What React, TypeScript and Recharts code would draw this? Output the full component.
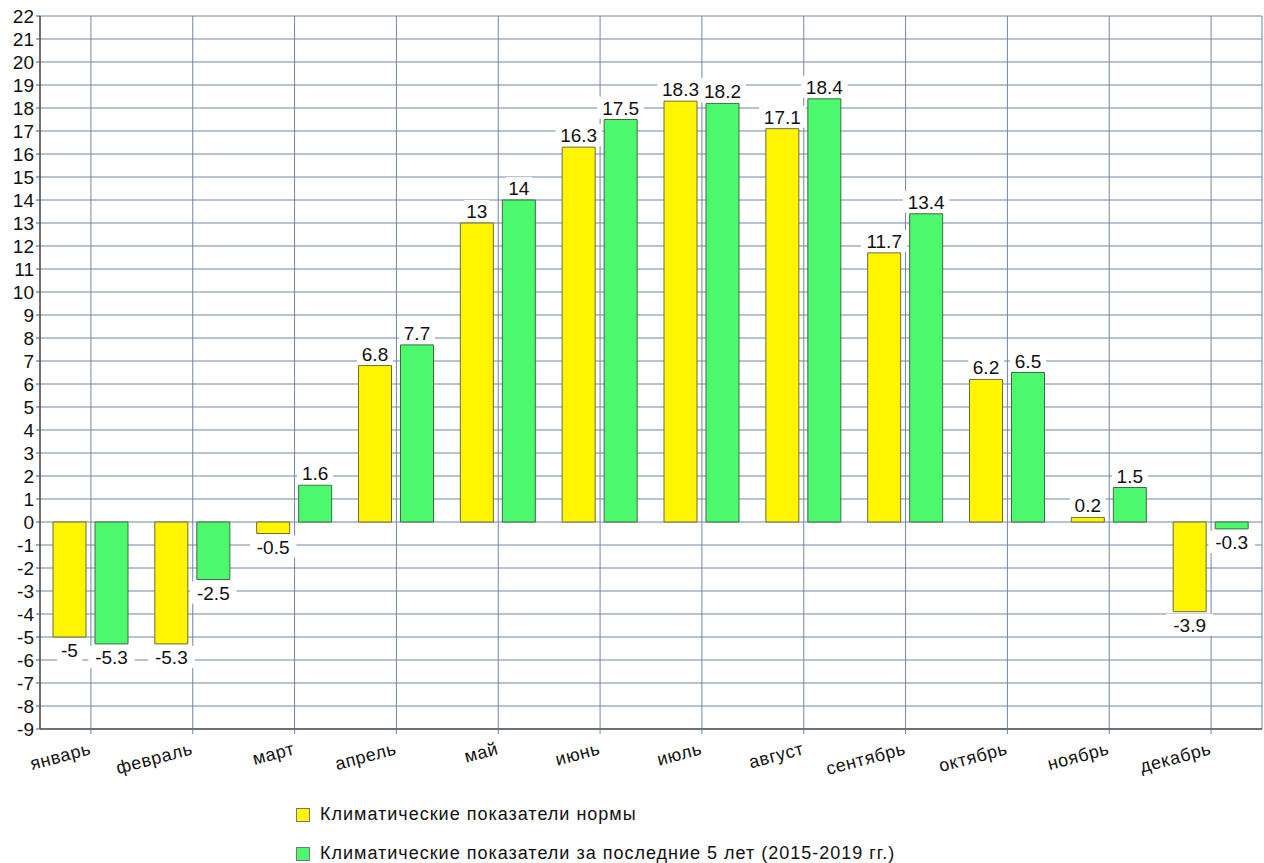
import { Bar, BarChart, CartesianGrid, LabelList, XAxis, YAxis } from "recharts";

const months = ["январь", "февраль", "март", "апрель", "май", "июнь", "июль", "август", "сентябрь", "октябрь", "ноябрь", "декабрь"];
const normValues = [-5, -5.3, -0.5, 6.8, 13, 16.3, 18.3, 17.1, 11.7, 6.2, 0.2, -3.9];
const recentValues = [-5.3, -2.5, 1.6, 7.7, 14, 17.5, 18.2, 18.4, 13.4, 6.5, 1.5, -0.3];
const yTicks = [-9, -8, -7, -6, -5, -4, -3, -2, -1, 0, 1, 2, 3, 4, 5, 6, 7, 8, 9, 10, 11, 12, 13, 14, 15, 16, 17, 18, 19, 20, 21, 22];
const seriesNames = ["Климатические показатели нормы", "Климатические показатели за последние 5 лет (2015-2019 гг.)"];

const data = months.map((m, i) => ({ month: m, norm: normValues[i], recent: recentValues[i] }));

const FONT = "'Liberation Sans', Arial, sans-serif";
const YELLOW = "#fff500";
const GREEN = "#4cf96c";
const GRID = "#6f87a8";

function ValueLabel(props: any) {
  const { x, y, width, height, value } = props;
  const top = Math.min(y, y + height);
  const bottom = Math.max(y, y + height);
  const text = String(value);
  const w = text.length * 10.6 + 4;
  const cx = x + width / 2;
  const cy = value >= 0 ? top - 12 : bottom + 13;
  return (
    <g>
      <rect x={cx - w / 2} y={cy - 11} width={w} height={22} fill="#fff" />
      <text x={cx} y={cy + 7} textAnchor="middle" fontSize={19} fontFamily={FONT} fill="#111">
        {text}
      </text>
    </g>
  );
}

function MonthTick(props: any) {
  const { x, y, payload } = props;
  return (
    <g transform={`translate(${x + 1},${y + 18})`}>
      <text textAnchor="end" transform="rotate(-15)" fontSize={18} letterSpacing={0.6} fontFamily={FONT} fill="#111">
        {payload.value}
      </text>
    </g>
  );
}

export default function App() {
  return (
    <div style={{ position: "absolute", left: 0, top: 0, width: 1264, height: 863, background: "#fff" }}>
      <BarChart
        width={1264}
        height={863}
        data={data}
        margin={{ top: 16, right: 2, bottom: 0, left: 0 }}
        barSize={33}
        barGap={9}
      >
        <CartesianGrid stroke={GRID} strokeWidth={1} />
        <XAxis
          dataKey="month"
          height={134}
          interval={0}
          tick={<MonthTick />}
          axisLine={{ stroke: "#555", strokeWidth: 1.5 }}
          tickLine={{ stroke: GRID }}
          tickSize={5}
        />
        <YAxis
          width={40}
          domain={[-9, 22]}
          ticks={yTicks}
          interval={0}
          tick={{ fill: "#111", fontSize: 19, fontFamily: FONT }}
          axisLine={{ stroke: "#555", strokeWidth: 1.5 }}
          tickLine={{ stroke: "#555" }}
          tickSize={4}
        />
        <Bar dataKey="norm" fill={YELLOW} stroke="#6b6b3a" strokeWidth={1} isAnimationActive={false}>
          <LabelList dataKey="norm" content={<ValueLabel />} />
        </Bar>
        <Bar dataKey="recent" fill={GREEN} stroke="#3d6b45" strokeWidth={1} isAnimationActive={false}>
          <LabelList dataKey="recent" content={<ValueLabel />} />
        </Bar>
      </BarChart>
      <div style={{ position: "absolute", left: 296, top: 795, fontFamily: FONT, fontSize: 18, letterSpacing: 1, color: "#111" }}>
        {seriesNames.map((name, i) => (
          <div key={name} style={{ display: "flex", alignItems: "center", height: 39, whiteSpace: "nowrap" }}>
            <span
              style={{
                display: "inline-block",
                width: 12,
                height: 12,
                background: i === 0 ? YELLOW : GREEN,
                border: "1px solid #777",
                marginRight: 10,
              }}
            />
            {name}
          </div>
        ))}
      </div>
    </div>
  );
}
